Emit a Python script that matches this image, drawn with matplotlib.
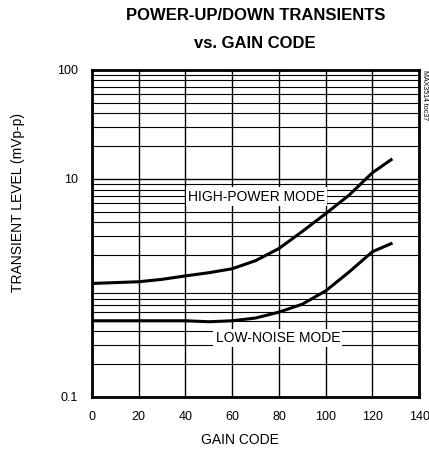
import matplotlib
matplotlib.use('Agg')
import matplotlib.pyplot as plt
from matplotlib.ticker import LogLocator, NullFormatter

plt.rcParams['font.family'] = ['Liberation Sans Narrow', 'Liberation Sans', 'DejaVu Sans']

# data
gain_code = [0, 10, 20, 30, 40, 50, 60, 70, 80, 90, 100, 110, 120, 128]
high_power = [1.1, 1.12, 1.14, 1.2, 1.29, 1.38, 1.5, 1.78, 2.3, 3.3, 4.8, 7.1, 11.4, 15.0]
low_noise = [0.5, 0.5, 0.5, 0.5, 0.5, 0.49, 0.5, 0.53, 0.6, 0.71, 0.94, 1.4, 2.15, 2.55]

x_ticks = [0, 20, 40, 60, 80, 100, 120, 140]
y_ticks = [0.1, 10, 100]
y_tick_labels = ['0.1', '10', '100']

fig = plt.figure(figsize=(4.29, 4.54), dpi=100)
ax = fig.add_axes([0.2145, 0.1256, 0.7625, 0.7204])

ax.plot(gain_code, high_power, color='black', linewidth=2.2, zorder=3)
ax.plot(gain_code, low_noise, color='black', linewidth=2.2, zorder=3)

ax.set_yscale('log')
ax.set_xlim(0, 140)
ax.set_ylim(0.1, 100)
ax.set_xticks(x_ticks)
ax.set_yticks(y_ticks)
ax.set_yticklabels(y_tick_labels)
ax.yaxis.set_minor_locator(LogLocator(base=10, subs=range(2, 10)))
ax.yaxis.set_minor_formatter(NullFormatter())
ax.tick_params(which='both', length=0, labelsize=9, pad=10)

ax.grid(True, which='major', axis='both', color='black', linewidth=1.0)
ax.grid(True, which='minor', axis='y', color='black', linewidth=0.8)
for s in ax.spines.values():
    s.set_linewidth(2)

ax.text(70.5, 6.9, 'HIGH-POWER MODE', fontsize=10, ha='center', va='center',
        bbox=dict(facecolor='white', edgecolor='none', pad=1.5), zorder=4)
ax.text(79.5, 0.35, 'LOW-NOISE MODE', fontsize=10, ha='center', va='center',
        bbox=dict(facecolor='white', edgecolor='none', pad=1.5), zorder=4)

fig.text(0.595, 0.965, 'POWER-UP/DOWN TRANSIENTS', fontsize=12, fontweight='bold',
         ha='center', va='center')
fig.text(0.595, 0.905, 'vs. GAIN CODE', fontsize=12, fontweight='bold',
         ha='center', va='center')
fig.text(0.042, 0.555, 'TRANSIENT LEVEL (mVp-p)', fontsize=10, rotation=90,
         ha='center', va='center')
fig.text(0.56, 0.03, 'GAIN CODE', fontsize=10, ha='center', va='center')
fig.text(0.99, 0.79, 'MAX3514 toc37', fontsize=5, rotation=270,
         ha='center', va='center')

fig.savefig('out.png', dpi=100)
